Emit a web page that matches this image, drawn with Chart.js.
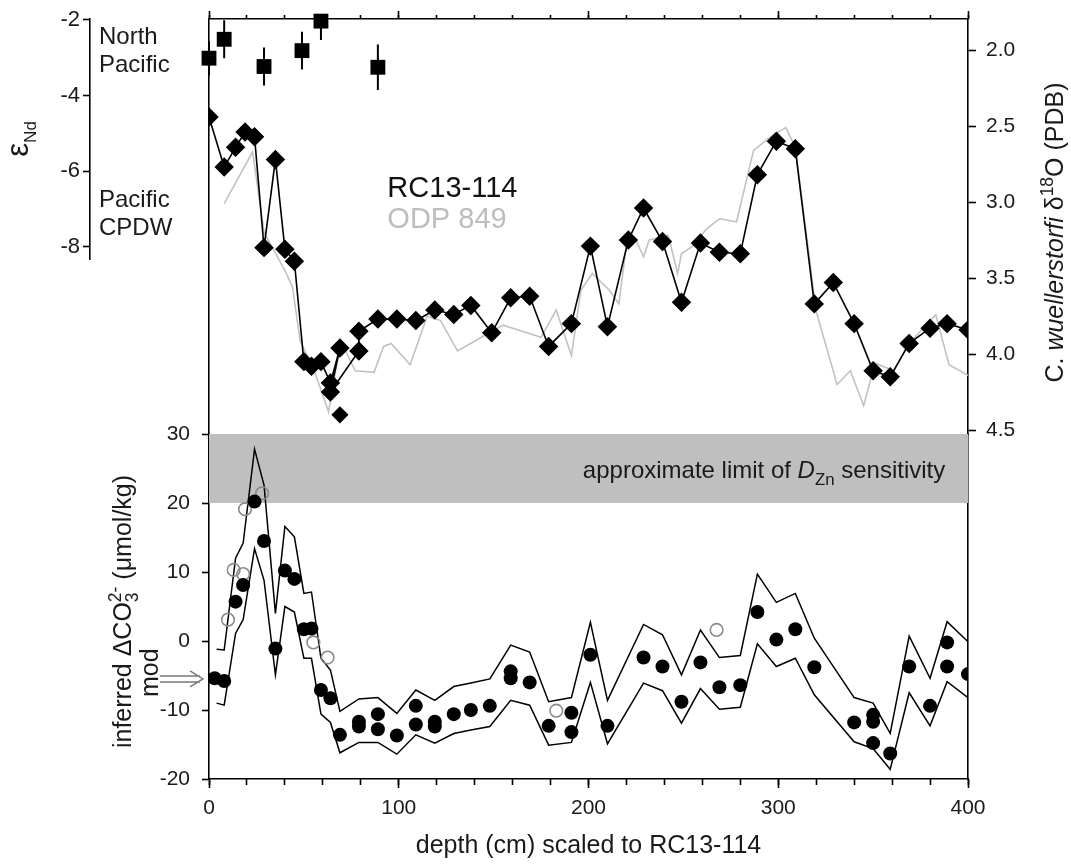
<!DOCTYPE html>
<html><head><meta charset="utf-8">
<script src="https://cdn.jsdelivr.net/npm/chart.js@4"></script>
<style>html,body{margin:0;padding:0;background:#fff;}canvas{display:block;}</style>
</head><body>
<canvas id="c" width="1071" height="864"></canvas>
<script>
// ---------------- data ----------------
const depthMajorTicks = [0, 100, 200, 300, 400];
const depthMinorTicks = [0, 20, 40, 60, 80, 100, 120, 140, 160, 180, 200, 220, 240, 260, 280, 300, 320, 340, 360, 380, 400];
const ndTickLabels = [-8, -6, -4, -2];
const co3TickLabels = [-20, -10, 0, 10, 20, 30];
const d18TickLabels = [2.0, 2.5, 3.0, 3.5, 4.0, 4.5];

// RC13-114 benthic d18O (connected, in plotted order)
const rcDepth = [0, 8, 14, 19, 24, 29, 35, 40, 45, 50, 54, 59, 64, 69, 64, 79, 79, 89, 99, 109, 119, 129, 138, 149, 159, 169, 179, 191, 201, 210, 221, 229, 239, 249, 259, 269, 280, 289, 299, 309, 319, 329, 340, 350, 359, 369, 380, 389, 400];
const rcD18O  = [2.44, 2.77, 2.64, 2.54, 2.57, 3.30, 2.72, 3.31, 3.39, 4.05, 4.08, 4.05, 4.19, 3.96, 4.25, 3.98, 3.85, 3.77, 3.77, 3.78, 3.71, 3.74, 3.68, 3.86, 3.63, 3.62, 3.95, 3.80, 3.29, 3.82, 3.25, 3.04, 3.26, 3.66, 3.27, 3.33, 3.34, 2.82, 2.60, 2.65, 3.67, 3.53, 3.80, 4.11, 4.15, 3.93, 3.83, 3.80, 3.84];
const rcLooseDepth = [69];
const rcLooseD18O = [4.40];

// ODP 849 benthic d18O
const odpDepth = [8, 23, 29, 40, 44, 48, 56, 63, 68, 72, 77, 87, 92, 96, 106, 115, 122, 131, 145, 155, 175, 183, 191, 196, 202, 211, 216, 220, 225, 229, 232, 242, 247, 249, 255, 262, 269, 278, 287, 296, 304, 309, 320, 331, 338, 345, 351, 361, 369, 383, 390, 400];
const odpD18O  = [3.01, 2.67, 3.20, 3.45, 3.56, 3.91, 4.13, 4.38, 4.02, 3.98, 4.11, 4.12, 3.95, 3.93, 4.07, 3.75, 3.78, 3.98, 3.88, 3.81, 3.89, 3.71, 4.01, 3.58, 3.47, 3.58, 3.67, 3.28, 3.25, 3.36, 3.25, 3.22, 3.47, 3.34, 3.29, 3.18, 3.11, 3.13, 2.66, 2.57, 2.51, 2.64, 3.72, 4.20, 4.11, 4.34, 4.06, 4.11, 3.93, 3.74, 4.07, 4.14];

// eNd with error bars
const ndDepth = [0, 8, 29, 49, 59, 89];
const ndValue = [-3.01, -2.51, -3.23, -2.81, -2.03, -3.25];
const ndError = [0.45, 0.5, 0.5, 0.5, 0.5, 0.6];

// inferred delta CO3 (filled circles)
const co3Depth = [3, 8, 14, 18, 24, 29, 35, 40, 45, 50, 54, 59, 64, 69, 79, 79, 89, 89, 99, 109, 109, 119, 119, 129, 138, 148, 159, 159, 169, 179, 191, 191, 201, 210, 229, 239, 249, 259, 269, 280, 289, 299, 309, 319, 340, 350, 350, 350, 359, 369, 380, 389, 389, 400];
const co3Value = [-5.4, -5.8, 5.7, 8.1, 20.2, 14.5, -1.1, 10.2, 9.0, 1.7, 1.8, -7.1, -8.3, -13.6, -11.7, -12.4, -10.6, -12.8, -13.7, -9.4, -12.1, -11.7, -12.4, -10.6, -10.0, -9.4, -4.4, -5.4, -6.0, -12.3, -10.4, -13.2, -2.0, -12.3, -2.4, -3.7, -8.8, -3.1, -6.7, -6.4, 4.2, 0.2, 1.7, -3.8, -11.8, -10.7, -11.7, -14.8, -16.3, -3.7, -9.4, -0.2, -3.7, -4.8];
// open circles
const co3OpenDepth = [10, 13, 18, 19, 28, 55, 62.5, 183, 267.5];
const co3OpenValue = [3.1, 10.3, 9.7, 19.1, 21.4, -0.2, -2.4, -10.1, 1.6];

// envelope
const envDepth = [4, 8, 14, 18, 24, 29, 35, 40, 45, 50, 54, 59, 64, 69, 79, 89, 99, 109, 119, 129, 138, 148, 159, 169, 179, 191, 201, 210, 229, 239, 249, 259, 269, 280, 289, 299, 309, 319, 340, 350, 359, 369, 380, 389, 400];
const envUpper = [-1.2, -1.3, 12.0, 14.2, 27.8, 22.6, 4.0, 16.6, 15.1, 6.9, 7.1, -2.5, -4.2, -10.2, -8.4, -8.2, -10.5, -7.1, -8.6, -6.6, -6.1, -5.5, -0.6, -1.6, -8.8, -8.2, 2.7, -8.6, 2.4, 0.9, -4.9, 1.6, -2.4, -2.1, 9.7, 5.6, 6.9, 0.4, -8.2, -9.0, -13.4, 0.7, -5.4, 2.8, -0.1];
const envLower = [-9.0, -9.3, 1.1, 3.1, 13.4, 8.8, -4.9, 5.0, 4.2, -2.5, -2.5, -10.6, -11.8, -16.2, -14.7, -14.7, -16.4, -13.6, -14.8, -13.4, -12.9, -12.4, -8.6, -9.3, -15.1, -14.7, -6.0, -14.9, -6.1, -7.2, -11.9, -6.9, -9.9, -9.6, -0.4, -3.7, -2.5, -7.8, -14.6, -15.6, -18.6, -7.5, -12.3, -5.9, -8.2];

// D_Zn sensitivity limit band
const bandRange = [20, 30];
const modernCO3 = -5.5;

// ---------------- helpers ----------------
const FONT = "'Liberation Sans', Arial, Helvetica, sans-serif";
const TXT = '#1a1a1a';
const pts = (xs, ys) => xs.map((x, i) => ({x: x, y: ys[i]}));
const errPts = () => {
  const out = [];
  ndDepth.forEach((d, i) => {
    out.push({x: d, y: ndValue[i] - ndError[i]});
    out.push({x: d, y: ndValue[i] + ndError[i]});
    out.push({x: null, y: null});
  });
  return out;
};
const ND_MIN = -8.318, ND_MAX = -1.974;
const D18_MIN = 1.796, D18_MAX = 4.526;
const zeroV = s => { s.paddingTop = 0; s.paddingBottom = 0; };
const zeroH = s => { s.paddingLeft = 0; s.paddingRight = 0; };
const setTicks = arr => s => { s.ticks = arr.map(v => ({value: v})); };
const tickFont = {family: FONT, size: 21};
const axisLine = {display: true, color: '#000', width: 1.6};

function runFont(r, base) {
  return (r.italic ? 'italic ' : '') + (base * (r.scale || 1)).toFixed(1) + 'px ' + FONT;
}
function drawRuns(ctx, runs, x, y, align, base, color) {
  let cur = 0, lastW = 0; const pos = [];
  runs.forEach(r => {
    ctx.font = runFont(r, base);
    const w = ctx.measureText(r.t).width;
    let start;
    if (r.overlay) { start = pos[pos.length - 1]; cur = start + Math.max(w, lastW); }
    else { start = cur; cur += w; }
    pos.push(start); lastW = w;
  });
  const x0 = align === 'center' ? x - cur / 2 : align === 'right' ? x - cur : x;
  ctx.fillStyle = color; ctx.textAlign = 'left'; ctx.textBaseline = 'alphabetic';
  runs.forEach((r, i) => { ctx.font = runFont(r, base); ctx.fillText(r.t, x0 + pos[i], y + (r.dy || 0) * base); });
}
function drawRotated(ctx, runs, baseX, cy, base, color) {
  ctx.save(); ctx.translate(baseX, cy); ctx.rotate(-Math.PI / 2);
  drawRuns(ctx, runs, 0, 0, 'center', base, color);
  ctx.restore();
}

const annotations = {
  id: 'annotations',
  afterDatasetsDraw(chart) {
    const ctx = chart.ctx, s = chart.scales;
    const nd = s.yNd, co3 = s.yCO3, d18 = s.yD18O, x = s.x;
    ctx.save();
    // water mass labels on eNd axis
    [{lines: ['North', 'Pacific'], at: -2.63}, {lines: ['Pacific', 'CPDW'], at: -6.94}].forEach(l => {
      l.lines.forEach((t, i) => drawRuns(ctx, [{t: t}], nd.right + 9, nd.getPixelForValue(l.at) + i * 28, 'left', 24, TXT));
    });
    // series labels
    drawRuns(ctx, [{t: 'RC13-114'}], x.getPixelForValue(94), d18.getPixelForValue(2.967), 'left', 29, '#111');
    drawRuns(ctx, [{t: 'ODP 849'}], x.getPixelForValue(94), d18.getPixelForValue(3.17), 'left', 29, '#bdbdbd');
    // band text
    drawRuns(ctx, [{t: 'approximate limit of '}, {t: 'D', italic: true}, {t: 'Zn', scale: 0.7, dy: 0.28}, {t: ' sensitivity'}],
      x.getPixelForValue(388), co3.getPixelForValue(23.6), 'right', 24, TXT);
    // axis titles
    drawRotated(ctx, [{t: 'ε', scale: 1.25}, {t: 'Nd', scale: 0.68, dy: 0.32}], nd.left - 2, (nd.top + nd.bottom) / 2, 25, TXT);
    drawRotated(ctx, [{t: 'inferred ΔCO'}, {t: '3', scale: 0.7, dy: 0.28}, {t: '2-', scale: 0.7, dy: -0.42, overlay: true}, {t: ' (μmol/kg)'}],
      co3.left + 41, (co3.top + co3.bottom) / 2 + 5, 25, TXT);
    drawRotated(ctx, [{t: 'mod'}], co3.left + 68, co3.getPixelForValue(-4.6), 25, TXT);
    drawRotated(ctx, [{t: 'C. '}, {t: 'wuellerstorfi', italic: true}, {t: ' δ'}, {t: '18', scale: 0.7, dy: -0.42}, {t: 'O (PDB)'}],
      d18.right - 8, (d18.top + d18.bottom) / 2 + 6, 25, TXT);
    // modern value arrow
    const ya = co3.getPixelForValue(modernCO3), xe = chart.chartArea.left - 6;
    ctx.strokeStyle = '#7a7a7a'; ctx.lineWidth = 1.5;
    ctx.beginPath();
    ctx.moveTo(xe - 43, ya - 3); ctx.lineTo(xe - 3, ya - 3);
    ctx.moveTo(xe - 43, ya + 3); ctx.lineTo(xe - 3, ya + 3);
    ctx.moveTo(xe - 13, ya - 8); ctx.lineTo(xe, ya); ctx.lineTo(xe - 13, ya + 8);
    ctx.stroke();
    ctx.restore();
  }
};

// ---------------- chart ----------------
new Chart(document.getElementById('c'), {
  type: 'scatter',
  data: {
    datasets: [
      {label: 'eNd', data: pts(ndDepth, ndValue), yAxisID: 'yNd', pointStyle: 'rect', pointRadius: 10.5,
        backgroundColor: '#000', borderColor: '#000', borderWidth: 0, order: 1, clip: false},
      {label: 'eNd err', data: errPts(), yAxisID: 'yNd', showLine: true, spanGaps: false, pointRadius: 0,
        borderColor: '#000', borderWidth: 2, order: 2},
      {label: 'filled', data: pts(co3Depth, co3Value), yAxisID: 'yCO3', pointRadius: 7,
        backgroundColor: '#000', borderColor: '#000', borderWidth: 0, order: 1},
      {label: 'open', data: pts(co3OpenDepth, co3OpenValue), yAxisID: 'yCO3', pointRadius: 6.3,
        backgroundColor: 'rgba(0,0,0,0)', borderColor: '#8a8a8a', borderWidth: 1.6, order: 3},
      {label: 'RC13-114', data: pts(rcDepth, rcD18O), yAxisID: 'yD18O', showLine: true, pointStyle: 'rectRot', pointRadius: 8.6,
        backgroundColor: '#000', borderColor: '#000', borderWidth: 1.6, order: 4},
      {label: 'RC loose', data: pts(rcLooseDepth, rcLooseD18O), yAxisID: 'yD18O', pointStyle: 'rectRot', pointRadius: 8.6,
        backgroundColor: '#000', borderColor: '#000', borderWidth: 0, order: 4},
      {label: 'ODP 849', data: pts(odpDepth, odpD18O), yAxisID: 'yD18O', showLine: true, pointRadius: 0,
        borderColor: '#c2c2c2', borderWidth: 1.6, order: 6},
      {label: 'upper', data: pts(envDepth, envUpper), yAxisID: 'yCO3', showLine: true, pointRadius: 0,
        borderColor: '#000', borderWidth: 1.5, order: 5},
      {label: 'lower', data: pts(envDepth, envLower), yAxisID: 'yCO3', showLine: true, pointRadius: 0,
        borderColor: '#000', borderWidth: 1.5, order: 5},
      {label: 'bandTop', data: pts([0, 400], [bandRange[1], bandRange[1]]), yAxisID: 'yCO3', showLine: true, pointRadius: 0,
        borderWidth: 0, borderColor: 'rgba(0,0,0,0)', order: 10},
      {label: 'bandBottom', data: pts([0, 400], [bandRange[0], bandRange[0]]), yAxisID: 'yCO3', showLine: true, pointRadius: 0,
        borderWidth: 0, borderColor: 'rgba(0,0,0,0)', fill: '-1', backgroundColor: '#bfbfbf', order: 10}
    ]
  },
  options: {
    responsive: false, animation: false, devicePixelRatio: 1,
    layout: {padding: {left: 30, top: 15, right: 0, bottom: 0}},
    elements: {line: {tension: 0}},
    plugins: {legend: {display: false}, tooltip: {enabled: false}},
    scales: {
      x: {type: 'linear', position: 'bottom', min: 0, max: 400, afterBuildTicks: setTicks(depthMajorTicks),
        ticks: {font: tickFont, color: TXT, padding: 8, autoSkip: false, maxRotation: 0},
        grid: {drawOnChartArea: false, tickLength: 9, tickColor: '#000', tickWidth: 1.6},
        border: axisLine,
        title: {display: true, text: 'depth (cm) scaled to RC13-114', color: TXT, font: {family: FONT, size: 25}, padding: {top: 0, bottom: 3}},
        afterFit: s => { s.height = 85; zeroH(s); }},
      xMinorB: {type: 'linear', axis: 'x', position: {yCO3: co3TickLabels[0]}, min: 0, max: 400, afterBuildTicks: setTicks(depthMinorTicks),
        ticks: {display: false}, grid: {drawOnChartArea: false, tickLength: 6, tickColor: '#000', tickWidth: 1.6},
        border: {display: false}, afterFit: zeroH},
      xTop: {type: 'linear', position: 'top', min: 0, max: 400, afterBuildTicks: setTicks(depthMinorTicks),
        ticks: {display: false}, grid: {drawOnChartArea: false, tickLength: 4, tickColor: '#000', tickWidth: 1.6},
        border: axisLine, afterFit: s => { s.height = 4; zeroH(s); }},
      xMajorT: {type: 'linear', axis: 'x', position: {yD18O: D18_MIN}, min: 0, max: 400, afterBuildTicks: setTicks(depthMajorTicks),
        ticks: {display: false}, grid: {drawOnChartArea: false, tickLength: -8, tickColor: '#000', tickWidth: 1.6},
        border: {display: false}, afterFit: zeroH},
      yNd: {type: 'linear', position: 'left', stack: 'outer', stackWeight: 240, weight: 40, min: ND_MIN, max: ND_MAX,
        afterBuildTicks: setTicks(ndTickLabels),
        ticks: {font: {family: FONT, size: 22}, color: TXT, padding: 3, autoSkip: false},
        grid: {drawOnChartArea: false, tickLength: 7, tickColor: '#000', tickWidth: 1.6},
        border: axisLine, afterFit: s => { s.width = 60; zeroV(s); }},
      yNdPad: {type: 'linear', position: 'left', stack: 'outer', stackWeight: 520, weight: 30, min: 0, max: 1, display: false},
      yLeftTop: {type: 'linear', position: 'left', stack: 'inner', stackWeight: 415, weight: 20, min: 0, max: 1,
        ticks: {display: false}, grid: {drawOnChartArea: false, drawTicks: false},
        border: axisLine, afterFit: s => { s.width = 0; zeroV(s); }},
      yCO3: {type: 'linear', position: 'left', stack: 'inner', stackWeight: 345, weight: 10, min: -20, max: 30,
        afterBuildTicks: setTicks(co3TickLabels),
        ticks: {font: tickFont, color: TXT, padding: 12, autoSkip: false},
        grid: {drawOnChartArea: false, tickLength: 7, tickColor: '#000', tickWidth: 1.6},
        border: axisLine, afterFit: s => { s.width = 119; zeroV(s); }},
      yD18O: {type: 'linear', position: 'right', stack: 'right', stackWeight: 415, weight: 10, reverse: true, min: D18_MIN, max: D18_MAX,
        afterBuildTicks: setTicks(d18TickLabels),
        ticks: {font: tickFont, color: TXT, padding: 10, autoSkip: false, callback: v => Number(v).toFixed(1)},
        grid: {drawOnChartArea: false, tickLength: 8, tickColor: '#000', tickWidth: 1.6},
        border: axisLine, afterFit: s => { s.width = 103; zeroV(s); }},
      yRB: {type: 'linear', position: 'right', stack: 'right', stackWeight: 345, weight: 20, min: 0, max: 1,
        ticks: {display: false}, grid: {drawOnChartArea: false, drawTicks: false},
        border: axisLine, afterFit: s => { s.width = 0; zeroV(s); }}
    }
  },
  plugins: [annotations]
});
</script>
</body></html>
